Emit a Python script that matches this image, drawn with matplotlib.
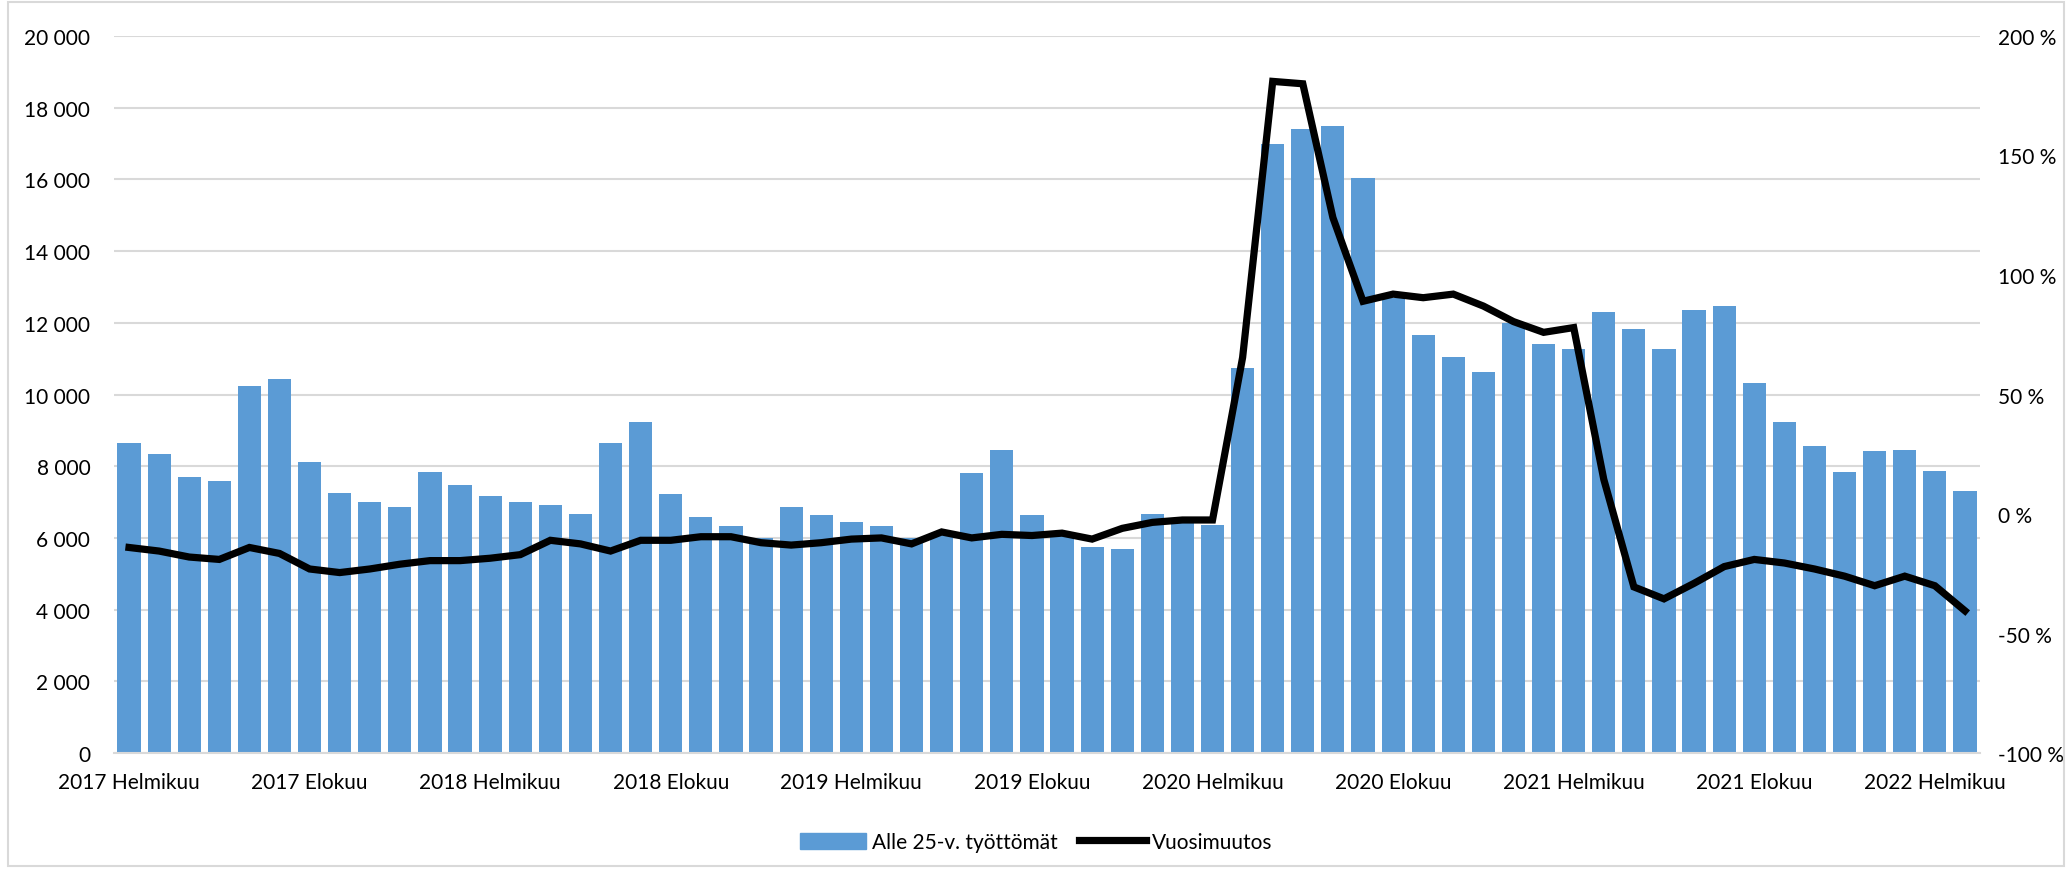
import matplotlib
matplotlib.use("Agg")
import matplotlib.pyplot as plt
from matplotlib.ticker import FuncFormatter, MultipleLocator
from matplotlib.patches import Rectangle
from matplotlib.lines import Line2D
import numpy as np

plt.rcParams['font.family'] = ['Lato', 'DejaVu Sans']

month_names = ["Tammikuu", "Helmikuu", "Maaliskuu", "Huhtikuu", "Toukokuu", "Kesäkuu",
               "Heinäkuu", "Elokuu", "Syyskuu", "Lokakuu", "Marraskuu", "Joulukuu"]
categories = [f"{2017 + (m // 12)} {month_names[m % 12]}" for m in range(1, 63)]

unemployed_under25 = [8650, 8330, 7700, 7580, 10250, 10430, 8120, 7260, 6990, 6860,
                      7840, 7480, 7180, 6990, 6910, 6680, 8650, 9230, 7220, 6590,
                      6320, 6000, 6860, 6630, 6450, 6320, 6000, 6150, 7800, 8460,
                      6630, 6100, 5740, 5700, 6670, 6550, 6370, 10750, 17000, 17400,
                      17480, 16050, 12700, 11650, 11050, 10620, 12000, 11420, 11270, 12300,
                      11820, 11280, 12350, 12480, 10330, 9220, 8560, 7830, 8420, 8460,
                      7870, 7300]

yearly_change = [-14, -15.5, -18, -19, -14, -16.5, -23, -24.5, -23, -21,
                 -19.5, -19.5, -18.5, -17, -11, -12.5, -15.5, -11, -11, -9.5,
                 -9.5, -12, -13, -12, -10.5, -10, -12.5, -7.5, -10, -8.5,
                 -9, -8, -10.5, -6, -3.5, -2.5, -2.5, 65.5, 181, 180,
                 124, 89, 92, 90.5, 92, 87, 80.5, 76, 78, 14.5,
                 -30.5, -35.5, -29, -22, -19, -20.5, -23, -26, -30, -26,
                 -30, -40.5]

tick_every = 6

bar_color = "#5B9BD5"
grid_color = "#D9D9D9"
text_color = "#000000"

fig = plt.figure(figsize=(20.72, 8.70), dpi=100)
ax = fig.add_axes([0.055, 0.1333, 0.9006, 0.8242])
ax2 = ax.twinx()

x = np.arange(len(categories))
ax.bar(x, unemployed_under25, width=0.77, color=bar_color, zorder=2)
ax2.plot(x, yearly_change, color="black", lw=5.2, solid_joinstyle="miter", zorder=3)

ax.set_xlim(-0.5, len(categories) - 0.5)
ax.set_ylim(0, 20000)
ax2.set_ylim(-100, 200)
ax.yaxis.set_major_locator(MultipleLocator(2000))
ax2.yaxis.set_major_locator(MultipleLocator(50))

def thousands(v, pos):
    return f"{int(v):,}".replace(",", " ")

ax.yaxis.set_major_formatter(FuncFormatter(thousands))
ax2.yaxis.set_major_formatter(FuncFormatter(lambda v, p: f"{int(v)} %"))

ax.set_xticks(x[::tick_every])
ax.set_xticklabels(categories[::tick_every])

ax.grid(axis="y", color=grid_color, lw=1.5, zorder=0)
ax.set_axisbelow(True)
for a in (ax, ax2):
    for s in a.spines.values():
        s.set_visible(False)
ax.spines["bottom"].set_visible(True)
ax.spines["bottom"].set_color(grid_color)
ax.spines["bottom"].set_linewidth(1.5)

ax.tick_params(axis="both", length=0, labelsize=15, colors=text_color)
ax.tick_params(axis="x", pad=14)
ax.tick_params(axis="y", pad=17)
ax2.tick_params(axis="y", length=0, labelsize=15, colors=text_color, pad=13)
ax2.set_zorder(ax.get_zorder() + 1)
ax2.patch.set_visible(False)

handles = [Rectangle((0, 0), 1, 1, color=bar_color),
           Line2D([0], [0], color="black", lw=5.2)]
fig.legend(handles, ["Alle 25-v. työttömät", "Vuosimuutos"], loc="center",
           bbox_to_anchor=(0.5, 0.031), ncol=2, frameon=False, fontsize=15,
           handlelength=3.2, handleheight=0.8, columnspacing=1.0, handletextpad=0.3)

fig.patches.append(Rectangle((0.004, 0.004), 0.992, 0.992, transform=fig.transFigure,
                             fill=False, edgecolor=grid_color, lw=1.5))

fig.savefig("out.png", dpi=100)
